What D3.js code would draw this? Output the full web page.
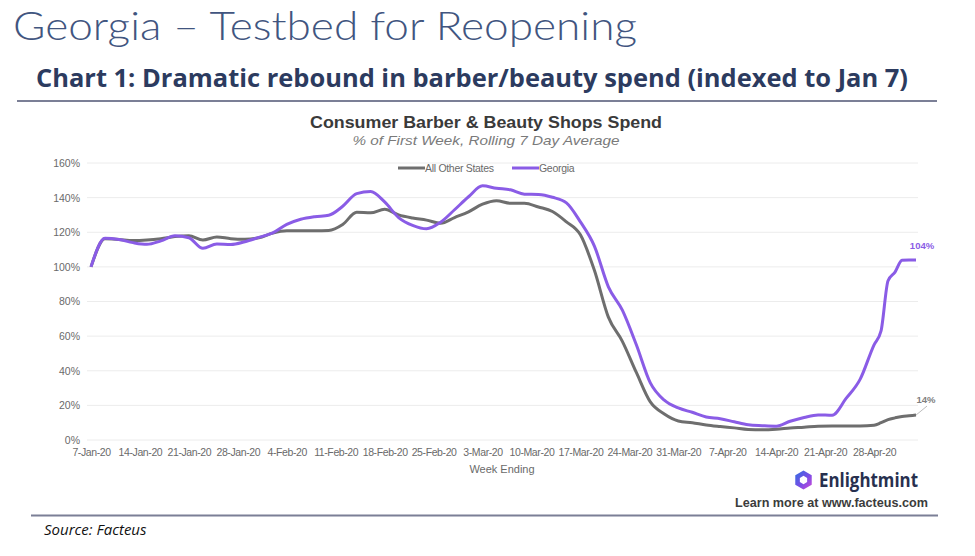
<!DOCTYPE html>
<html>
<head>
<meta charset="utf-8">
<script src="https://cdn.jsdelivr.net/npm/d3@7"></script>
<style>
  html, body { margin: 0; padding: 0; background: #fff; }
  svg { display: block; }
</style>
</head>
<body>
<div id="chart"></div>
<script>
/* === Georgia barber/beauty spend chart === */

// Dates (sampled every ~2 days) and series values, indexed to Jan 7 = 1.0
const DATES = [
  "2020-01-07","2020-01-09","2020-01-11","2020-01-13","2020-01-15","2020-01-17","2020-01-19","2020-01-21",
  "2020-01-23","2020-01-25","2020-01-27","2020-01-29","2020-01-31","2020-02-02","2020-02-04","2020-02-06",
  "2020-02-08","2020-02-10","2020-02-12","2020-02-14","2020-02-16","2020-02-18","2020-02-20","2020-02-22",
  "2020-02-24","2020-02-26","2020-02-28","2020-03-01","2020-03-03","2020-03-05","2020-03-07","2020-03-09",
  "2020-03-11","2020-03-13","2020-03-15","2020-03-17","2020-03-19","2020-03-21","2020-03-23","2020-03-25",
  "2020-03-27","2020-03-29","2020-03-31","2020-04-02","2020-04-04","2020-04-06","2020-04-08","2020-04-10",
  "2020-04-12","2020-04-14","2020-04-16","2020-04-18","2020-04-20","2020-04-22","2020-04-24","2020-04-26",
  "2020-04-28","2020-04-29","2020-04-30","2020-05-01","2020-05-02","2020-05-03","2020-05-04"
];

const GEORGIA = [
  1.000,1.165,1.158,1.140,1.130,1.150,1.180,1.168,
  1.107,1.132,1.129,1.145,1.170,1.196,1.245,1.275,
  1.290,1.298,1.350,1.423,1.435,1.375,1.285,1.240,
  1.220,1.258,1.330,1.405,1.468,1.454,1.445,1.420,
  1.418,1.402,1.370,1.260,1.120,0.885,0.750,0.550,
  0.330,0.230,0.185,0.160,0.133,0.123,0.105,0.088,
  0.083,0.080,0.108,0.130,0.145,0.143,0.240,0.350,
  0.550,0.630,0.920,0.970,1.038,1.040,1.040
];

const OTHER_STATES = [
  1.000,1.162,1.158,1.152,1.155,1.163,1.175,1.180,
  1.155,1.173,1.163,1.160,1.168,1.195,1.208,1.208,
  1.208,1.210,1.245,1.315,1.312,1.333,1.300,1.282,
  1.270,1.252,1.285,1.318,1.362,1.382,1.368,1.368,
  1.346,1.320,1.260,1.185,0.980,0.710,0.570,0.390,
  0.220,0.150,0.110,0.100,0.087,0.078,0.070,0.061,
  0.059,0.062,0.069,0.074,0.080,0.081,0.081,0.081,
  0.085,0.100,0.118,0.128,0.136,0.140,0.144
];

const Y_TICKS = [0, 0.2, 0.4, 0.6, 0.8, 1.0, 1.2, 1.4, 1.6];
const X_TICKS = [
  "2020-01-07","2020-01-14","2020-01-21","2020-01-28","2020-02-04","2020-02-11","2020-02-18","2020-02-25",
  "2020-03-03","2020-03-10","2020-03-17","2020-03-24","2020-03-31","2020-04-07","2020-04-14","2020-04-21","2020-04-28"
];
const SERIES_NAMES = ["All Other States", "Georgia"];

function initChart() {
  const W = 975, H = 556;
  const PURPLE = "#8a5ce6", GREY = "#6e6e6e";
  const NAVY = "#41557f";
  const parse = d3.utcParse("%Y-%m-%d");
  const fmtTick = d3.utcFormat("%-d-%b-20");

  const svg = d3.select("#chart").append("svg")
    .attr("width", W).attr("height", H)
    .attr("viewBox", `0 0 ${W} ${H}`);

  // fit a text element to a target width
  function fit(sel, w) {
    sel.attr("textLength", w).attr("lengthAdjust", "spacingAndGlyphs");
    return sel;
  }

  // --- Slide header ---
  fit(svg.append("text")
    .attr("x", 13).attr("y", 40)
    .style("font-family", "Lato, 'Open Sans', sans-serif")
    .style("font-weight", 300)
    .style("font-size", "39px")
    .attr("fill", NAVY)
    .text("Georgia \u2013 Testbed for Reopening"), 624);

  fit(svg.append("text")
    .attr("x", 36).attr("y", 87)
    .style("font-family", "'Open Sans', Lato, sans-serif")
    .style("font-weight", 700)
    .style("font-size", "25px")
    .attr("fill", "#2c3b5f")
    .text("Chart 1: Dramatic rebound in barber/beauty spend (indexed to Jan 7)"), 872);

  svg.append("line")
    .attr("x1", 17).attr("x2", 937).attr("y1", 101).attr("y2", 101)
    .attr("stroke", "#7b7f96").attr("stroke-width", 2);

  // --- Chart title ---
  fit(svg.append("text")
    .attr("x", 486).attr("y", 128)
    .attr("text-anchor", "middle")
    .style("font-family", "'Liberation Sans', Arial, sans-serif")
    .style("font-weight", 700)
    .style("font-size", "17px")
    .attr("fill", "#3a3a3a")
    .text("Consumer Barber & Beauty Shops Spend"), 352);

  fit(svg.append("text")
    .attr("x", 486).attr("y", 145)
    .attr("text-anchor", "middle")
    .style("font-family", "'Liberation Sans', Arial, sans-serif")
    .style("font-style", "italic")
    .style("font-size", "13.5px")
    .attr("fill", "#7a7a7a")
    .text("% of First Week, Rolling 7 Day Average"), 267);

  // --- Scales ---
  const x = d3.scaleUtc()
    .domain([parse(DATES[0]), parse(DATES[DATES.length - 1])])
    .range([91, 916]);
  const y = d3.scaleLinear().domain([0, 1.6]).range([440, 163]);

  // Gridlines
  svg.append("g").selectAll("line")
    .data(Y_TICKS)
    .join("line")
      .attr("x1", 87).attr("x2", 918)
      .attr("y1", d => y(d)).attr("y2", d => y(d))
      .attr("stroke", "#ececec").attr("stroke-width", 1);

  const tickFont = "'Liberation Sans', Arial, sans-serif";

  // Y axis labels
  const yAxis = svg.append("g")
    .attr("transform", "translate(86,0)")
    .call(d3.axisLeft(y).tickValues(Y_TICKS).tickSize(0).tickPadding(6).tickFormat(d3.format(".0%")));
  yAxis.select(".domain").remove();
  yAxis.selectAll("text")
    .style("font-family", tickFont).style("font-size", "10.5px").attr("fill", "#6a6a6a");

  // X axis labels
  const xAxis = svg.append("g")
    .attr("transform", "translate(0,440)")
    .call(d3.axisBottom(x).tickValues(X_TICKS.map(parse)).tickSize(0).tickPadding(9).tickFormat(fmtTick));
  xAxis.select(".domain").remove();
  xAxis.selectAll("text")
    .style("font-family", tickFont).style("font-size", "10.5px").style("letter-spacing", "-0.4px")
    .attr("fill", "#6a6a6a");

  svg.append("text")
    .attr("x", 502).attr("y", 473)
    .attr("text-anchor", "middle")
    .style("font-family", tickFont).style("font-size", "11px")
    .attr("fill", "#6a6a6a")
    .text("Week Ending");

  // --- Lines ---
  const rows = DATES.map((d, i) => ({ date: parse(d), ga: GEORGIA[i], other: OTHER_STATES[i] }));
  const line = key => d3.line()
    .x(d => x(d.date))
    .y(d => y(d[key]))
    .curve(d3.curveMonotoneX);

  svg.append("path").datum(rows)
    .attr("d", line("other"))
    .attr("fill", "none").attr("stroke", GREY).attr("stroke-width", 3)
    .attr("stroke-linejoin", "round");

  svg.append("path").datum(rows)
    .attr("d", line("ga"))
    .attr("fill", "none").attr("stroke", PURPLE).attr("stroke-width", 3)
    .attr("stroke-linejoin", "round");

  // --- Legend ---
  const legend = svg.append("g").attr("transform", "translate(0,168)");
  const legendItems = [
    { name: SERIES_NAMES[0], color: GREY, x: 398 },
    { name: SERIES_NAMES[1], color: PURPLE, x: 512 }
  ];
  legendItems.forEach(it => {
    legend.append("line")
      .attr("x1", it.x).attr("x2", it.x + 27)
      .attr("stroke", it.color).attr("stroke-width", 3);
    legend.append("text")
      .attr("x", it.x + 27).attr("y", 4)
      .style("font-family", tickFont).style("font-size", "10.5px").style("letter-spacing", "-0.3px")
      .attr("fill", "#6a6a6a")
      .text(it.name);
  });

  // --- End labels ---
  const last = rows[rows.length - 1];
  svg.append("text")
    .attr("x", x(last.date) + 6).attr("y", y(last.ga) - 11)
    .attr("text-anchor", "middle")
    .style("font-family", tickFont).style("font-size", "9.5px").style("font-weight", 700)
    .attr("fill", PURPLE)
    .text(d3.format(".0%")(last.ga));

  svg.append("line")
    .attr("x1", x(last.date)).attr("y1", y(last.other))
    .attr("x2", x(last.date) + 11).attr("y2", y(last.other) - 9)
    .attr("stroke", "#bdbdbd").attr("stroke-width", 1);
  svg.append("text")
    .attr("x", x(last.date) + 10).attr("y", y(last.other) - 12)
    .attr("text-anchor", "middle")
    .style("font-family", tickFont).style("font-size", "9.5px").style("font-weight", 700)
    .attr("fill", "#808080")
    .text(d3.format(".0%")(last.other));

  // --- Enlightmint logo ---
  const defs = svg.append("defs");
  const grad = defs.append("linearGradient").attr("id", "logo-grad")
    .attr("x1", "0%").attr("y1", "0%").attr("x2", "100%").attr("y2", "100%");
  grad.append("stop").attr("offset", "0%").attr("stop-color", "#2f6fe0");
  grad.append("stop").attr("offset", "55%").attr("stop-color", "#7a4de6");
  grad.append("stop").attr("offset", "100%").attr("stop-color", "#d04ad8");

  const hex = (cx, cy, r) => d3.range(6).map(i => {
    const a = Math.PI / 3 * i - Math.PI / 6;
    return [cx + r * Math.cos(a), cy + r * Math.sin(a)];
  });
  const hexPath = pts => "M" + pts.map(p => p.join(",")).join("L") + "Z";
  svg.append("path")
    .attr("d", hexPath(hex(803.5, 480, 9.5)) + hexPath(hex(803.5, 480, 4.2)))
    .attr("fill", "url(#logo-grad)")
    .attr("fill-rule", "evenodd");

  fit(svg.append("text")
    .attr("x", 819).attr("y", 487)
    .style("font-family", "'Open Sans', Lato, sans-serif")
    .style("font-weight", 700).style("font-size", "19px")
    .attr("fill", "#27304f")
    .text("Enlightmint"), 99);

  fit(svg.append("text")
    .attr("x", 735).attr("y", 507)
    .style("font-family", tickFont)
    .style("font-weight", 700).style("font-size", "12px")
    .attr("fill", "#3c3c3c")
    .text("Learn more at www.facteus.com"), 193);

  // --- Footer ---
  svg.append("line")
    .attr("x1", 31).attr("x2", 938).attr("y1", 515.5).attr("y2", 515.5)
    .attr("stroke", "#7b7f96").attr("stroke-width", 2);

  svg.append("text")
    .attr("x", 44).attr("y", 535)
    .style("font-family", "'Open Sans', Lato, sans-serif")
    .style("font-style", "italic").style("font-size", "15px")
    .attr("fill", "#111")
    .text("Source: Facteus");
}

if (document.readyState === "loading") {
  document.addEventListener("DOMContentLoaded", initChart);
} else {
  initChart();
}
</script>
</body>
</html>
